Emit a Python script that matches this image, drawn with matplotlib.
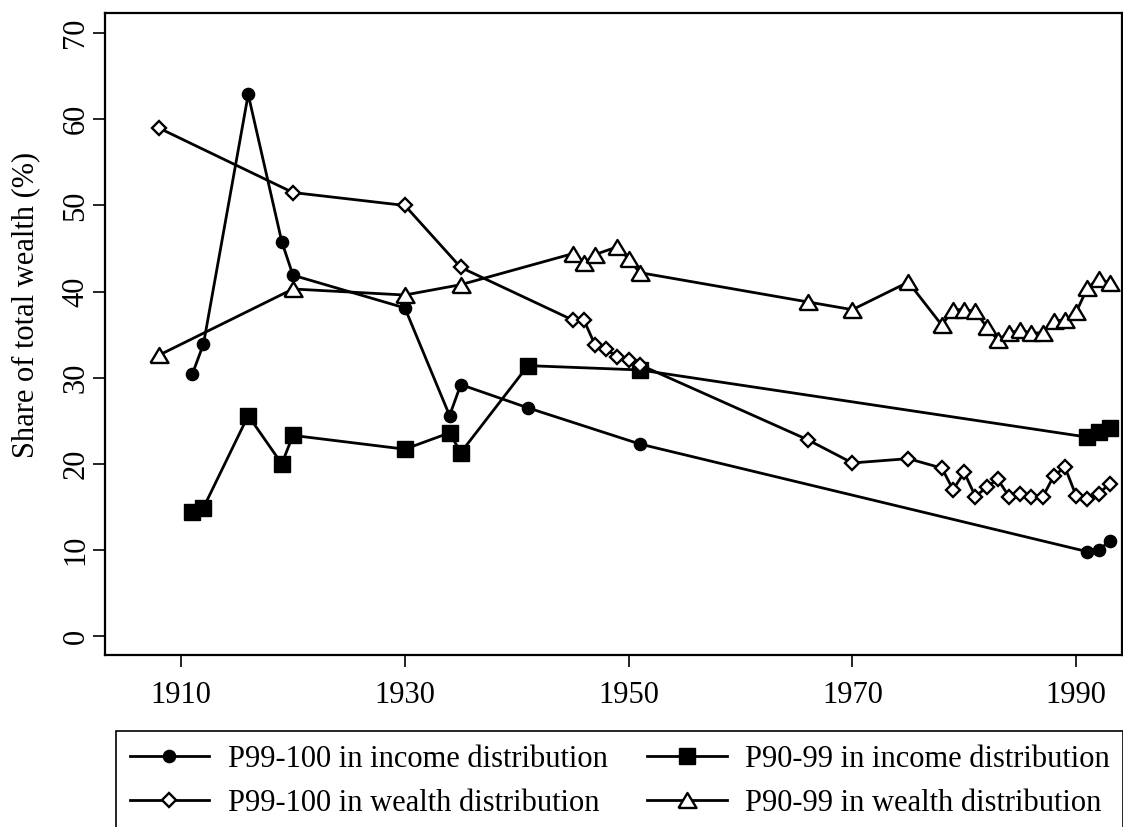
import matplotlib
matplotlib.use("Agg")
import matplotlib.pyplot as plt

plt.rcParams['font.family'] = ['Liberation Serif', 'DejaVu Serif']

# data
yrs_inc = [1911, 1912, 1916, 1919, 1920, 1930, 1934, 1935, 1941, 1951, 1991, 1992, 1993]
inc_top1 = [30.4, 33.9, 62.9, 45.8, 41.9, 38.1, 25.6, 29.2, 26.5, 22.3, 9.8, 10.0, 11.0]
inc_next9 = [14.4, 14.9, 25.6, 20.0, 23.3, 21.7, 23.6, 21.3, 31.4, 30.9, 23.1, 23.7, 24.2]

yrs_w_top1 = [1908, 1920, 1930, 1935, 1945, 1946, 1947, 1948, 1949, 1950, 1951, 1966, 1970,
              1975, 1978, 1979, 1980, 1981, 1982, 1983, 1984, 1985, 1986, 1987, 1988, 1989,
              1990, 1991, 1992, 1993]
w_top1 = [59.0, 51.5, 50.0, 42.8, 36.7, 36.7, 33.8, 33.3, 32.4, 32.0, 31.5, 22.8, 20.1,
          20.6, 19.5, 17.0, 19.0, 16.2, 17.3, 18.2, 16.2, 16.5, 16.2, 16.1, 18.6, 19.6,
          16.3, 15.9, 16.5, 17.7]

yrs_w_next9 = [1908, 1920, 1930, 1935, 1945, 1946, 1947, 1949, 1950, 1951, 1966, 1970,
               1975, 1978, 1979, 1980, 1981, 1982, 1983, 1984, 1985, 1986, 1987, 1988,
               1989, 1990, 1991, 1992, 1993]
w_next9 = [32.6, 40.3, 39.6, 40.8, 44.4, 43.3, 44.3, 45.2, 43.8, 42.2, 38.8, 37.9,
           41.1, 36.1, 37.9, 37.9, 37.7, 35.9, 34.4, 35.2, 35.5, 35.2, 35.2, 36.6,
           36.7, 37.6, 40.4, 41.5, 41.0]

labels = ['P99-100 in income distribution', 'P90-99 in income distribution',
          'P99-100 in wealth distribution', 'P90-99 in wealth distribution']

# flatter triangle like the Stata one
tri = [(-1, -0.83), (1, -0.83), (0, 0.83), (-1, -0.83)]

fig = plt.figure(figsize=(11.23, 8.27), dpi=100)
ax = fig.add_axes([105 / 1123, 1 - 655 / 827, 1017 / 1123, (655 - 13.4) / 827])

lw = 2.0
l1, = ax.plot(yrs_inc, inc_top1, color='black', lw=lw, marker='o', ms=8.8,
              mfc='black', mec='black')
l2, = ax.plot(yrs_inc, inc_next9, color='black', lw=lw, marker='s', ms=11,
              mfc='black', mec='black')
l3, = ax.plot(yrs_w_top1, w_top1, color='black', lw=lw, marker='D', ms=7.2,
              mfc='white', mec='black', mew=1.7)
l4, = ax.plot(yrs_w_next9, w_next9, color='black', lw=lw, marker=tri, ms=13,
              mfc='white', mec='black', mew=1.7)

ax.set_xlim(1903.2, 1994.1)
ax.set_ylim(-2.2, 72.3)
ax.set_xticks([1910, 1930, 1950, 1970, 1990])
ax.set_yticks(range(0, 71, 10))
ax.tick_params(axis='both', direction='out', length=8.5, width=1.2, labelsize=22,
               color='black')
ax.tick_params(axis='x', pad=10)
ax.tick_params(axis='y', pad=2)
for t in ax.get_yticklabels():
    t.set_rotation(90)
    t.set_va('center')
for s in ax.spines.values():
    s.set_linewidth(1.6)
    s.set_color('black')

ax.set_ylabel('Share of total wealth (%)', fontsize=22)
ax.yaxis.set_label_coords(-0.064, 0.545)

# legend: row 1 income, row 2 wealth
top = 1 - 731 / 827
leg = fig.legend([l1, l3, l2, l4], [labels[0], labels[2], labels[1], labels[3]],
                 ncol=2, loc='upper left', bbox_to_anchor=(116 / 1123, top),
                 fontsize=22, frameon=True, fancybox=False,
                 edgecolor='black', framealpha=1, borderpad=0.45,
                 handlelength=2.6, handletextpad=0.6, labelspacing=0.5,
                 borderaxespad=0, columnspacing=1.3)
leg.get_frame().set_linewidth(1.2)

fig.savefig('out.png', dpi=100)
